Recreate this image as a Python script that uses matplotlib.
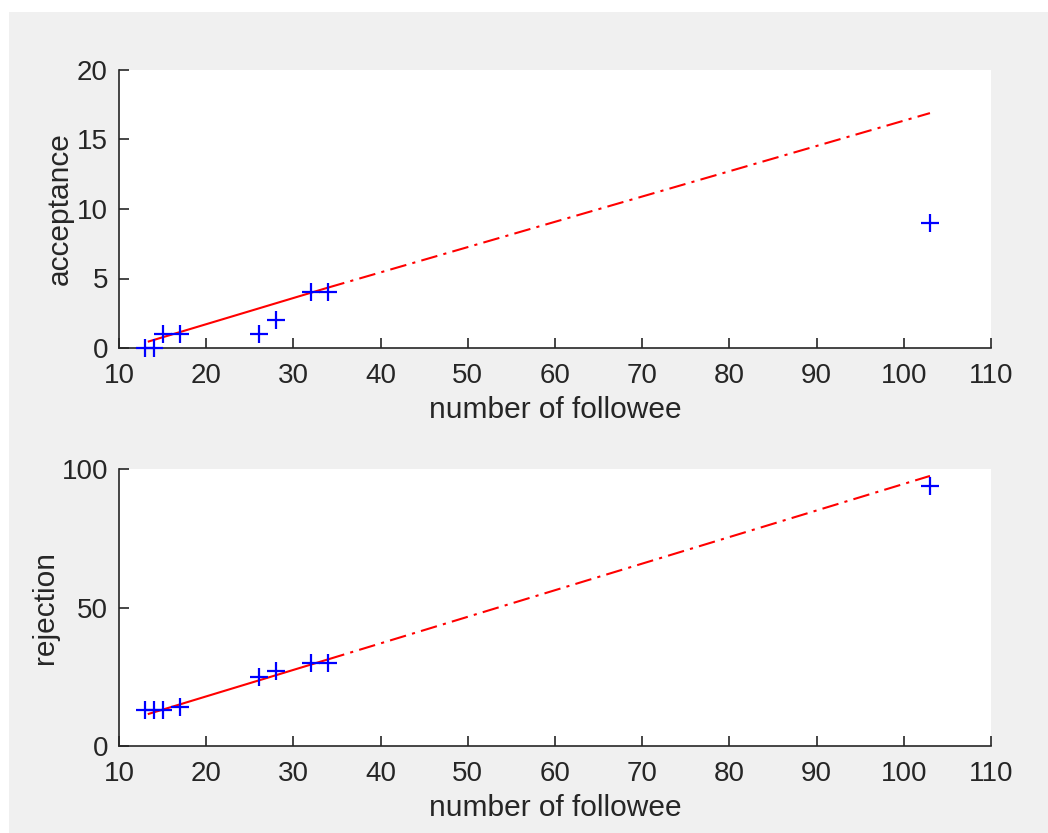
import matplotlib
matplotlib.use("Agg")
import matplotlib.pyplot as plt
from matplotlib.patches import Rectangle

# Data
followee = [13, 14, 15, 17, 26, 28, 32, 34, 103]
acceptance = [0, 0, 1, 1, 1, 2, 4, 4, 9]
rejection = [13, 13, 13, 14, 25, 27, 30, 30, 94]

# Fitted lines (solid over fitted range, dash-dot extrapolation)
fit_x_solid = [13.3, 34]
fit_x_ext = [34, 103]
acc_fit_solid = [0.45, 4.35]
acc_fit_ext = [4.35, 16.9]
rej_fit_solid = [11.5, 31.3]
rej_fit_ext = [31.3, 97.5]

xticks = [10, 20, 30, 40, 50, 60, 70, 80, 90, 100, 110]
acc_yticks = [0, 5, 10, 15, 20]
rej_yticks = [0, 50, 100]

plt.rcParams['font.family'] = ['Liberation Sans', 'DejaVu Sans']
txt = '#262626'
ax_col = '#262626'

fig = plt.figure(figsize=(10.48, 8.33), dpi=100)
fig.patch.set_facecolor('white')
fig.patches.append(Rectangle((9 / 1048, 0), 1 - 9 / 1048, 1 - 12 / 833,
                             transform=fig.transFigure, facecolor='#f0f0f0',
                             edgecolor='none', zorder=-10))

W, H = 1048, 833
left, right = 119 / W, 991 / W

def make_ax(top_px, bot_px):
    return fig.add_axes([left, 1 - bot_px / H, right - left, (bot_px - top_px) / H])

ax1 = make_ax(70, 348)
ax2 = make_ax(469, 746)

for ax, y, ys, ye, yt, yl, ylim in [
    (ax1, acceptance, acc_fit_solid, acc_fit_ext, acc_yticks, 'acceptance', (0, 20)),
    (ax2, rejection, rej_fit_solid, rej_fit_ext, rej_yticks, 'rejection', (0, 100)),
]:
    ax.set_facecolor('white')
    ax.plot(fit_x_solid, ys, color='#ff0000', lw=1.5, solid_capstyle='butt', zorder=2)
    ax.plot(fit_x_ext, ye, color='#ff0000', lw=1.5, linestyle=(0, (8, 3, 1.5, 3)), zorder=2)
    ax.plot(followee, y, linestyle='none', marker='+', color='#0000ff',
            markersize=13, markeredgewidth=1.6, zorder=3, clip_on=False)
    ax.set_xlim(10, 110)
    ax.set_ylim(*ylim)
    ax.set_xticks(xticks)
    ax.set_yticks(yt)
    ax.spines['top'].set_visible(False)
    ax.spines['right'].set_visible(False)
    for s in ('left', 'bottom'):
        ax.spines[s].set_color(ax_col)
        ax.spines[s].set_linewidth(1.2)
    ax.tick_params(direction='in', length=7, width=1.2, color=ax_col,
                   labelsize=20, labelcolor=txt)
    ax.tick_params(axis='x', pad=11)
    ax.tick_params(axis='y', pad=8)
    ax.set_xlabel('number of followee', fontsize=21.5, color=txt, labelpad=5)
    ax.set_ylabel(yl, fontsize=21.5, color=txt, labelpad=2)

fig.savefig('out.png', dpi=100, facecolor=fig.get_facecolor())
